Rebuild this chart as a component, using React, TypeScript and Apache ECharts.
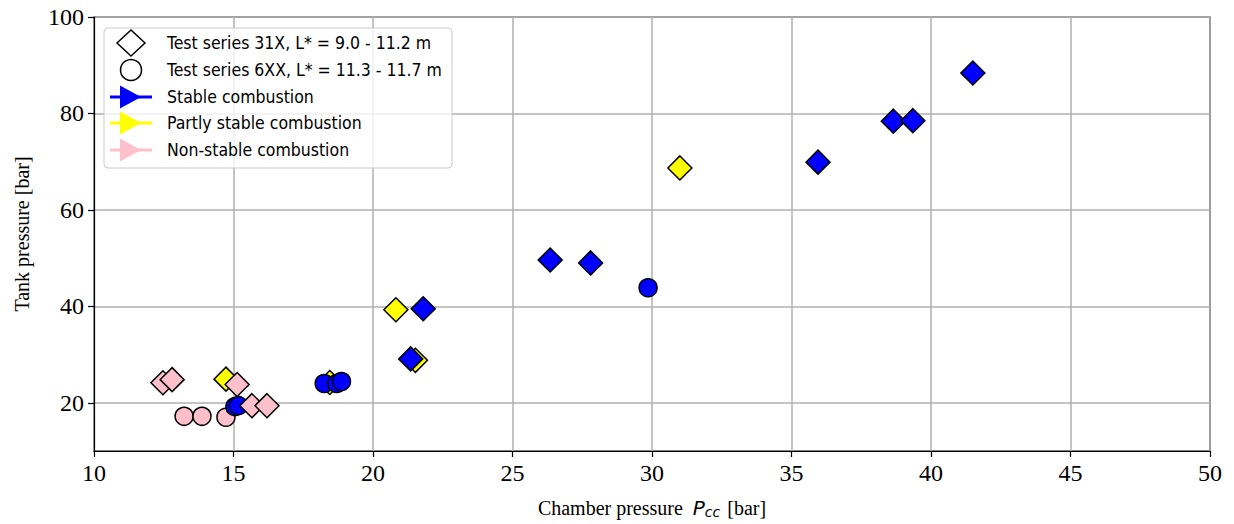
import React, { useEffect, useRef } from "react";
import * as echarts from "echarts";

const xTicks = [10, 15, 20, 25, 30, 35, 40, 45, 50];
const yTicks = [20, 40, 60, 80, 100];

// Test series 31X (diamonds)
const diamondStable: [number, number][] = [
  [41.5, 88.4], [38.65, 78.4], [39.35, 78.5], [35.95, 69.9],
  [26.35, 49.6], [27.8, 49.0], [21.8, 39.5], [21.35, 29.1],
];
const diamondPartly: [number, number][] = [
  [31.0, 68.7], [20.82, 39.3], [21.52, 28.8], [14.73, 24.9], [18.45, 24.2],
];
const diamondNon: [number, number][] = [
  [12.47, 24.15], [12.8, 24.8], [15.13, 23.8], [15.66, 19.4], [16.2, 19.4],
];
// Test series 6XX (circles)
const circleStable: [number, number][] = [
  [15.05, 19.2], [15.18, 19.4], [18.25, 24.0], [18.7, 24.0], [18.87, 24.4], [29.86, 43.85],
];
const circleNon: [number, number][] = [
  [13.23, 17.2], [13.87, 17.2], [14.73, 17.0],
];

const legendTexts = [
  "Test series 31X, L* = 9.0 - 11.2 m",
  "Test series 6XX, L* = 11.3 - 11.7 m",
  "Stable combustion",
  "Partly stable combustion",
  "Non-stable combustion",
];
const BLUE = "#0000ff";
const YELLOW = "#ffff00";
const PINK = "#ffc0cb";

export default function App() {
  const ref = useRef<HTMLDivElement>(null);
  useEffect(() => {
    if (!ref.current) return;
    const chart = echarts.init(ref.current, null, { renderer: "svg" });
    const serif = "Liberation Serif";
    const legendFont = "DejaVu Sans Condensed";
    const mk = (name: string, data: [number, number][], symbol: string, size: number, color: string, z: number) => ({
      name,
      type: "scatter",
      data,
      symbol,
      symbolSize: size,
      z,
      itemStyle: { color, borderColor: "#000", borderWidth: 1.5, opacity: 1 },
      emphasis: { disabled: true },
    });
    const rowY = [43, 70, 97, 123, 150];
    const g: any[] = [
      {
        type: "rect",
        shape: { x: 104, y: 28, width: 348, height: 140, r: 4 },
        style: { fill: "rgba(255,255,255,0.8)", stroke: "#cccccc", lineWidth: 1 },
        z: 100,
      },
      {
        type: "polygon",
        shape: { points: [[131, rowY[0] - 13], [145, rowY[0]], [131, rowY[0] + 13], [117, rowY[0]]] },
        style: { fill: "#fff", stroke: "#000", lineWidth: 1.5 },
        z: 101,
      },
      {
        type: "circle",
        shape: { cx: 131, cy: rowY[1], r: 10.5 },
        style: { fill: "#fff", stroke: "#000", lineWidth: 1.5 },
        z: 101,
      },
    ];
    [BLUE, YELLOW, PINK].forEach((c, i) => {
      const y = rowY[i + 2];
      g.push({
        type: "rect",
        shape: { x: 110, y: y - 1.5, width: 42, height: 3 },
        style: { fill: c },
        z: 101,
      });
      g.push({
        type: "polygon",
        shape: { points: [[120, y - 11.5], [141, y], [120, y + 11.5]] },
        style: { fill: c },
        z: 101,
      });
    });
    legendTexts.forEach((t, i) => {
      g.push({
        type: "text",
        x: 167,
        y: rowY[i],
        style: { text: t, font: `17.5px "${legendFont}"`, fill: "#000", verticalAlign: "middle", align: "left" },
        z: 101,
      });
    });

    chart.setOption({
      animation: false,
      grid: { left: 94, right: 24, top: 17, bottom: 68, show: true, borderColor: "#000", borderWidth: 1.2 },
      xAxis: {
        type: "value",
        min: 10,
        max: 50,
        interval: 5,
        name: "Chamber pressure  {it|P}{sub|cc} [bar]",
        nameLocation: "middle",
        nameGap: 46,
        nameTextStyle: {
          fontFamily: serif,
          fontSize: 20,
          color: "#000",
          rich: {
            it: { fontFamily: "DejaVu Sans", fontStyle: "italic", fontSize: 20, color: "#000" },
            sub: { fontFamily: "DejaVu Sans", fontStyle: "italic", fontSize: 14, color: "#000", verticalAlign: "bottom", padding: [8, 2, 0, 0] },
          },
        },
        axisLine: { lineStyle: { color: "#000", width: 1.2 } },
        axisTick: { show: true, length: 6, lineStyle: { color: "#000", width: 1.2 } },
        axisLabel: { fontFamily: serif, fontSize: 24, color: "#000", margin: 10, formatter: (v: number) => (xTicks.includes(v) ? String(v) : "") },
        splitLine: { show: true, lineStyle: { color: "#b0b0b0", width: 1.5 } },
      },
      yAxis: {
        type: "value",
        min: 10,
        max: 100,
        name: "Tank pressure [bar]",
        nameLocation: "middle",
        nameGap: 62,
        nameTextStyle: { fontFamily: serif, fontSize: 20, color: "#000" },
        axisLine: { lineStyle: { color: "#000", width: 1.2 } },
        axisTick: { show: true, length: 6, customValues: yTicks, lineStyle: { color: "#000", width: 1.2 } },
        axisLabel: { fontFamily: serif, fontSize: 24, color: "#000", margin: 10, customValues: yTicks },
        splitLine: { show: true, lineStyle: { color: "#b0b0b0", width: 1.5 } },
      },
      series: [
        mk("d-partly", diamondPartly, "diamond", 24, YELLOW, 2),
        mk("d-stable", diamondStable, "diamond", 24, BLUE, 3),
        mk("c-non", circleNon, "circle", 18, PINK, 4),
        mk("c-stable", circleStable, "circle", 18, BLUE, 5),
        mk("d-non", diamondNon, "diamond", 24, PINK, 6),
      ],
      graphic: g,
    });
    return () => chart.dispose();
  }, []);
  return <div ref={ref} style={{ position: "absolute", left: 0, top: 0, width: 1234, height: 524 }} />;
}
